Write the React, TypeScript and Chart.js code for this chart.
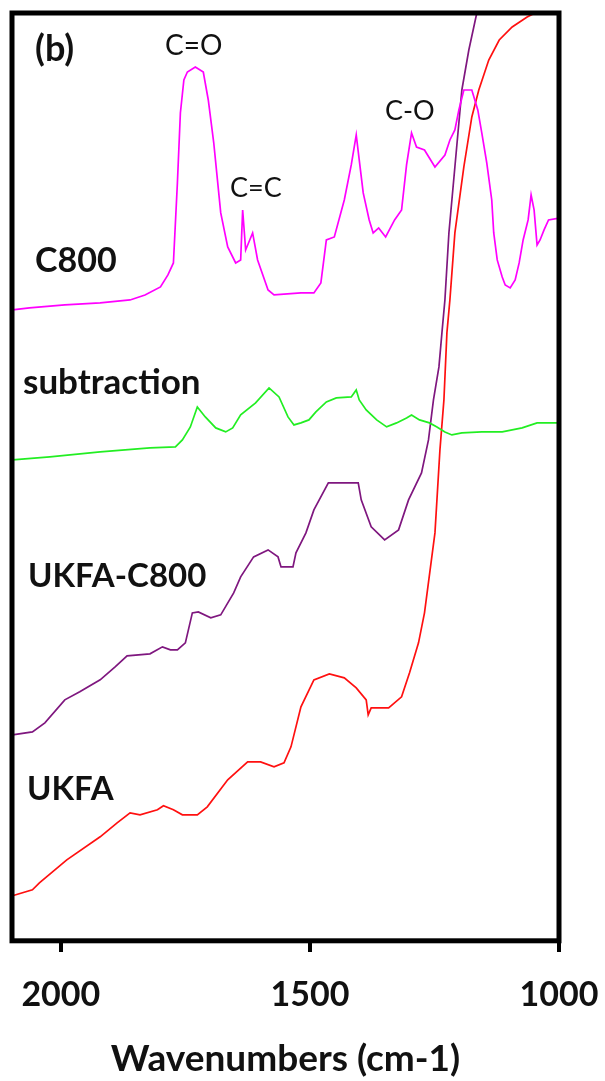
import { useEffect, useRef } from "react";
import { Chart, registerables } from "chart.js";

Chart.register(...registerables);

// x-axis tick values (wavenumbers, cm-1)
const xTicks = [1000, 1500, 2000];

// C800 spectrum (magenta)
const c800Wn = [2097, 2063, 1992, 1921, 1861, 1831, 1800, 1785, 1774, 1766, 1760, 1753, 1746, 1730, 1714, 1704, 1693, 1679, 1665, 1649, 1639, 1635, 1629, 1615, 1605, 1584, 1572, 1518, 1492, 1478, 1467, 1451, 1431, 1417, 1407, 1401, 1393, 1381, 1373, 1362, 1348, 1330, 1316, 1306, 1296, 1286, 1270, 1249, 1229, 1219, 1209, 1201, 1191, 1175, 1163, 1155, 1145, 1135, 1131, 1124, 1114, 1108, 1098, 1088, 1080, 1072, 1062, 1056, 1050, 1044, 1038, 1030, 1021, 999];
const c800Abs = [633, 635, 638, 640, 643, 648, 656, 668, 680, 760, 830, 863, 871, 876, 871, 843, 800, 730, 696, 680, 683, 733, 693, 710, 683, 653, 648, 650, 650, 660, 703, 706, 743, 778, 808, 783, 750, 723, 710, 715, 706, 723, 733, 778, 810, 796, 793, 776, 788, 803, 813, 833, 853, 853, 833, 810, 780, 743, 710, 683, 666, 658, 655, 663, 680, 703, 723, 748, 733, 698, 703, 713, 723, 725];

// subtraction spectrum (green)
const subWn = [2097, 2022, 1921, 1821, 1770, 1756, 1740, 1726, 1710, 1689, 1669, 1655, 1639, 1609, 1582, 1562, 1544, 1532, 1518, 1502, 1488, 1467, 1447, 1417, 1407, 1401, 1387, 1366, 1346, 1326, 1306, 1296, 1280, 1260, 1245, 1229, 1215, 1195, 1155, 1114, 1074, 1044, 999];
const subAbs = [483, 486, 491, 495, 496, 503, 516, 536, 526, 515, 511, 515, 528, 540, 555, 546, 526, 518, 520, 523, 531, 541, 545, 546, 553, 543, 533, 523, 516, 520, 525, 528, 523, 520, 516, 511, 508, 510, 511, 511, 515, 520, 520];

// UKFA-C800 spectrum (purple)
const ukfaC800Wn = [2097, 2057, 2032, 1992, 1962, 1921, 1891, 1867, 1821, 1796, 1780, 1766, 1750, 1736, 1724, 1699, 1679, 1653, 1639, 1613, 1584, 1564, 1558, 1534, 1528, 1508, 1492, 1463, 1413, 1403, 1397, 1377, 1350, 1322, 1302, 1276, 1262, 1252, 1241, 1235, 1229, 1221, 1209, 1195, 1181, 1165, 1155];
const ukfaC800Abs = [208, 211, 220, 243, 251, 263, 276, 287, 289, 296, 293, 293, 300, 330, 331, 325, 328, 350, 366, 386, 393, 386, 376, 376, 390, 410, 433, 460, 460, 460, 443, 416, 403, 413, 443, 470, 503, 543, 576, 610, 643, 710, 776, 853, 893, 930, 960];

// UKFA spectrum (red)
const ukfaWn = [2097, 2057, 2043, 1988, 1921, 1887, 1861, 1841, 1806, 1794, 1774, 1756, 1726, 1706, 1665, 1625, 1599, 1572, 1552, 1538, 1518, 1492, 1461, 1431, 1407, 1387, 1383, 1377, 1342, 1316, 1300, 1282, 1270, 1249, 1239, 1231, 1225, 1219, 1209, 1191, 1175, 1161, 1141, 1120, 1094, 1064, 1044, 1024];
const ukfaAbs = [47, 53, 60, 83, 106, 120, 130, 128, 133, 137, 133, 128, 128, 136, 163, 181, 181, 176, 180, 196, 236, 263, 269, 265, 255, 243, 228, 235, 235, 246, 270, 300, 330, 410, 493, 543, 610, 643, 710, 776, 826, 853, 883, 903, 916, 926, 931, 935];

const seriesNames = ["C800", "subtraction", "UKFA-C800", "UKFA"];
const peakNames = ["C=O", "C=C", "C-O"];
const panelTag = "(b)";
const axisTitle = "Wavenumbers (cm-1)";

const FONT = "Lato, 'Open Sans', sans-serif";

export default function App() {
  const ref = useRef<HTMLCanvasElement>(null);

  useEffect(() => {
    if (!ref.current) return;
    const pts = (wn: number[], ab: number[]) => wn.map((w, i) => ({ x: w, y: ab[i] }));

    const textItems = [
      { text: panelTag, x: 35, y: 61, bold: true, size: 36 },
      { text: peakNames[0], x: 165, y: 55, bold: false, size: 28 },
      { text: peakNames[1], x: 230, y: 197, bold: false, size: 27 },
      { text: peakNames[2], x: 385, y: 120, bold: false, size: 27 },
      { text: seriesNames[0], x: 35, y: 272, bold: true, size: 34 },
      { text: seriesNames[1], x: 23, y: 394, bold: true, size: 35 },
      { text: seriesNames[2], x: 28, y: 587, bold: true, size: 33 },
      { text: seriesNames[3], x: 27, y: 800, bold: true, size: 33 },
    ];

    const framePlugin = {
      id: "frame",
      afterDraw(chart: any) {
        const { ctx, chartArea: a } = chart;
        const xs = chart.scales.x;
        ctx.save();
        ctx.lineWidth = 5;
        ctx.strokeStyle = "#000";
        ctx.strokeRect(a.left, a.top, a.right - a.left, a.bottom - a.top);
        ctx.fillStyle = "#000";
        for (const v of xTicks) {
          const px = xs.getPixelForValue(v);
          ctx.fillRect(Math.round(px) - 2, Math.round(a.bottom), 4, 11);
        }
        ctx.restore();
      },
    };

    const textPlugin = {
      id: "texts",
      afterDraw(chart: any) {
        const { ctx } = chart;
        ctx.save();
        ctx.fillStyle = "#111";
        ctx.textAlign = "left";
        ctx.textBaseline = "alphabetic";
        for (const t of textItems) {
          ctx.font = `${t.bold ? "bold " : ""}${t.size}px ${FONT}`;
          ctx.fillText(t.text, t.x, t.y);
        }
        ctx.restore();
      },
    };

    const ds = (label: string, data: any[], color: string) => ({
      label,
      data,
      borderColor: color,
      backgroundColor: color,
      borderWidth: 1.7,
      pointRadius: 0,
      tension: 0,
      fill: false,
    });

    const chart = new Chart(ref.current, {
      type: "line",
      data: {
        datasets: [
          ds(seriesNames[1], pts(subWn, subAbs), "#22ee22"),
          ds(seriesNames[0], pts(c800Wn, c800Abs), "#ff00ff"),
          ds(seriesNames[2], pts(ukfaC800Wn, ukfaC800Abs), "#7f177f"),
          ds(seriesNames[3], pts(ukfaWn, ukfaAbs), "#ff1010"),
        ],
      },
      options: {
        responsive: false,
        animation: false,
        layout: { padding: { left: 12, right: 46, top: 13, bottom: 0 } },
        plugins: { legend: { display: false }, tooltip: { enabled: false } },
        scales: {
          x: {
            type: "linear",
            reverse: true,
            min: 1000,
            max: 2098,
            afterBuildTicks: (s: any) => {
              s.ticks = xTicks.map((v) => ({ value: v }));
            },
            border: { display: false },
            grid: {
              drawOnChartArea: false,
              drawTicks: true,
              tickLength: 29,
              tickColor: "rgba(0,0,0,0)",
              color: "rgba(0,0,0,0)",
            },
            ticks: {
              padding: 5,
              autoSkip: false,
              maxRotation: 0,
              color: "#111",
              font: { family: FONT, weight: "bold", size: 34 },
              callback: (v: any) => String(v),
            },
            title: {
              display: true,
              text: axisTitle,
              color: "#111",
              font: { family: FONT, weight: "bold", size: 37 },
              padding: { top: 16, bottom: 0 },
            },
          },
          y: {
            type: "linear",
            display: false,
            min: 2,
            max: 930,
          },
        },
      },
      plugins: [framePlugin, textPlugin],
    });
    return () => chart.destroy();
  }, []);

  return (
    <div style={{ position: "absolute", left: 0, top: 0, width: 605, height: 1081, background: "#fff" }}>
      <canvas ref={ref} width={605} height={1081} style={{ display: "block" }} />
    </div>
  );
}
